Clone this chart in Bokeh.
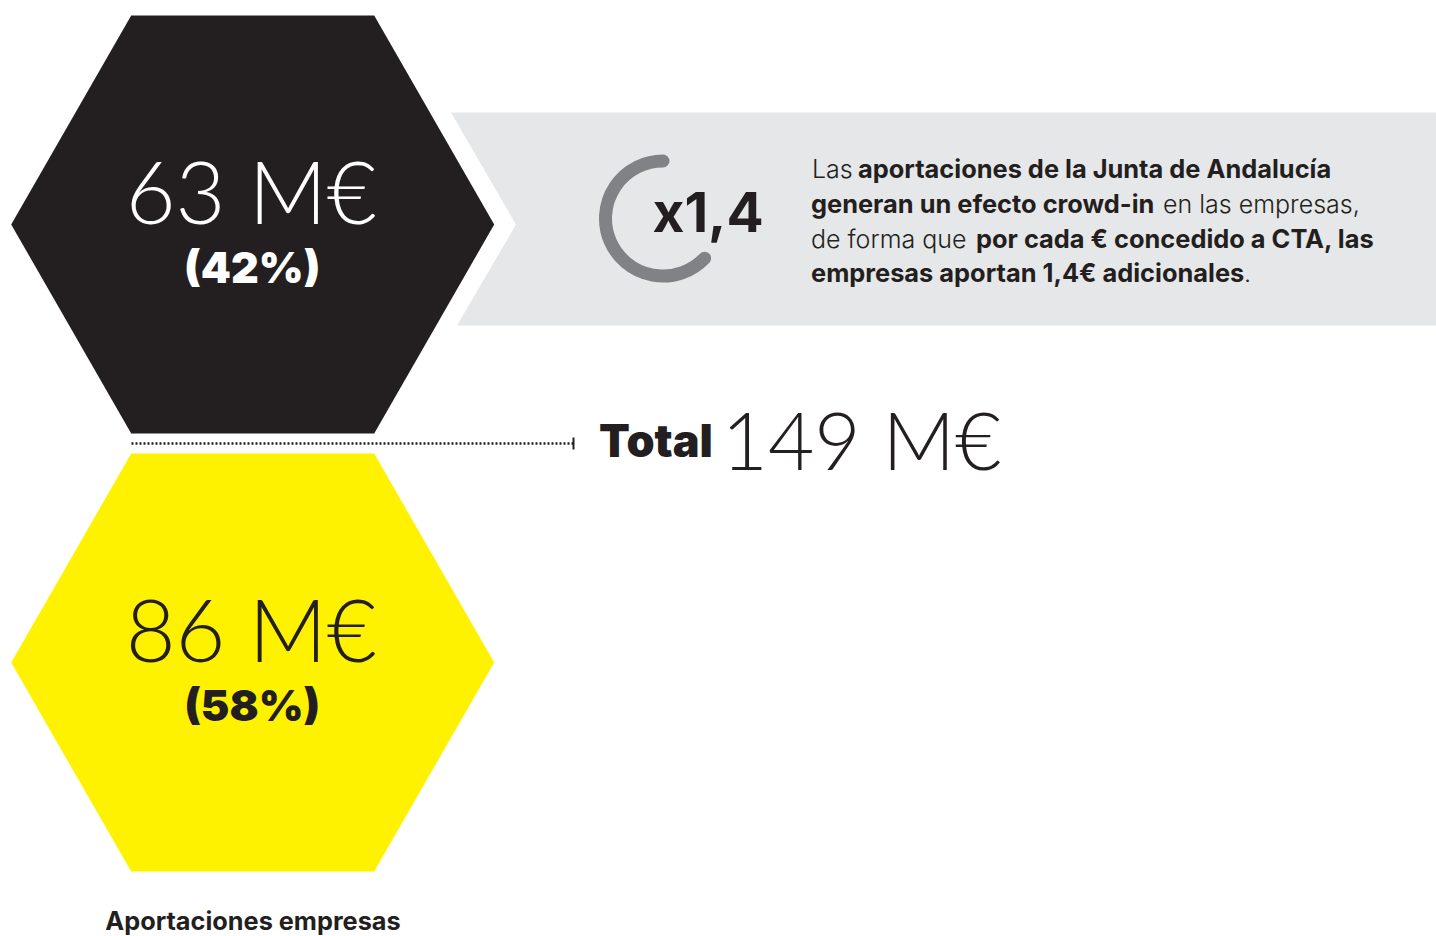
from bokeh.plotting import figure
from bokeh.core.properties import value
from bokeh.embed import file_html
from bokeh.resources import INLINE
import math

# --- data -------------------------------------------------------------
amount_labels = ["63 M€", "86 M€"]
share_labels = ["(42%)", "(58%)"]
hex_colors = ["#231f20", "#fff200"]
amount_colors = ["#ffffff", "#231f20"]
total_word = "Total"
total_label = "149 M€"
multiplier_label = "x1,4"
bottom_label = "Aportaciones empresas"
ring_start_deg = 90
ring_end_deg = 316.4
body_runs = [
    ("Las", 0, False), ("aportaciones de la Junta de Andalucía", 0, True),
    ("generan un efecto crowd-in", 1, True), ("en las empresas,", 1, False),
    ("de forma que", 2, False), ("por cada € concedido a CTA, las", 2, True),
    ("empresas aportan 1,4€ adicionales", 3, True), (".", 3, False),
]
body_x = [811.5, 857.5, 810.5, 1162.5, 810.5, 975.5, 810.5, 1243.5]
line_baselines = [178.2, 213.2, 248.2, 282.4]

INK = "#231f20"
LIGHT = value("Lato Light")

p = figure(width=1436, height=936, x_range=(0, 1436), y_range=(936, 0),
           output_backend="svg", toolbar_location=None, min_border=0,
           margin=0, outline_line_color=None,
           background_fill_color="white", border_fill_color="white")
p.axis.visible = False
p.grid.visible = False

def txt(x, y, s, font, size, color=INK, align="left", style="normal"):
    p.text(x=[x], y=[y - 0.4 * size], text=[s], text_font=font, text_font_size=f"{size}px",
           text_color=color, text_align=align, text_baseline="alphabetic",
           text_font_style=style)

# grey band
p.patch([450.5, 1436, 1436, 456.5, 515.5], [112, 112, 325, 325, 224], fill_color="#e6e7e8", line_color=None)

# hexagons
cx = 252.2
for cy, col, amt, share, tc in zip([224, 662], hex_colors, amount_labels, share_labels, amount_colors):
    p.patch([cx - 241.5, cx - 121.5, cx + 121.5, cx + 241.5, cx + 121.5, cx - 121.5],
            [cy, cy - 209, cy - 209, cy, cy + 209, cy + 209],
            fill_color=col, line_color=None)
    txt(cx - 1.5, cy + 0.5, amt, LIGHT, 86, tc, "center")
    txt(cx - 0.5, cy + 60, share, value("Inter Black"), 43, tc, "center", "bold")

# ring
p.arc(x=[662.5], y=[218], radius=[57.5], start_angle=[math.radians(ring_start_deg)],
      end_angle=[math.radians(ring_end_deg)], direction="anticlock",
      line_color="#808285", line_width=13, line_cap="round")
txt(652, 233.5, multiplier_label, value("Inter"), 55, INK, "left", "bold")

# body text
for (s, ln, bold), x in zip(body_runs, body_x):
    txt(x, line_baselines[ln], s, value("Inter") if bold else value("Inter Light"), 25.4 if bold else 25, INK, "left", "bold" if bold else "normal")

# total line
p.line([131, 573], [443, 443], line_color=INK, line_width=2.5, line_dash="2 2")
p.line([573, 573], [437, 449], line_color=INK, line_width=2)
txt(598.5, 458, total_word, value("Inter Black"), 45, INK, "left", "bold")
txt(721, 470, total_label, LIGHT, 80)

txt(252.5, 930, bottom_label, value("Inter"), 25.3, INK, "center", "bold")

open("out.html", "w").write(file_html(p, INLINE))
